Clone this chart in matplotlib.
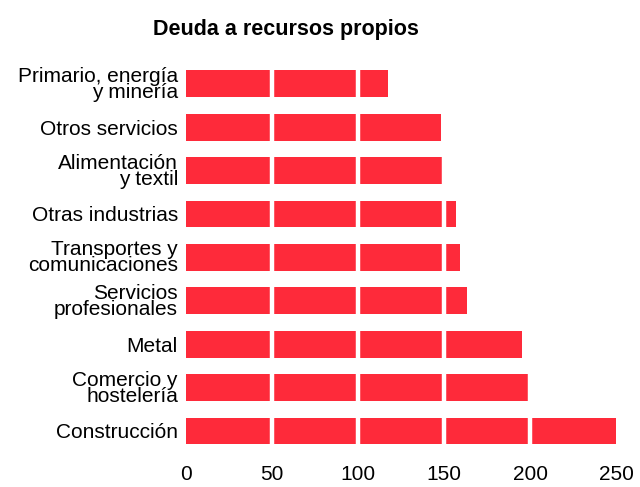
import matplotlib.pyplot as plt

# datos (de arriba hacia abajo)
sectores = ["Primario, energía\ny minería", "Otros servicios", "Alimentación\ny textil",
            "Otras industrias", "Transportes y\ncomunicaciones", "Servicios\nprofesionales",
            "Metal", "Comercio y\nhostelería", "Construcción"]
deuda = [117, 148, 150, 157, 159, 163, 195, 200, 250]
ticks = [0, 50, 100, 150, 200, 250]

plt.rcParams['font.family'] = ['Liberation Sans', 'DejaVu Sans']

fig = plt.figure(figsize=(6.4, 4.87), dpi=100)
ax = fig.add_axes([0.291, 0.066, 0.672, 0.811])

y = list(range(len(sectores)))[::-1]
ax.barh(y, deuda, height=0.62, color='#fe2a3a', zorder=1)

# lineas blancas de la rejilla por encima de las barras
for t in ticks[1:-1]:
    ax.axvline(t, color='white', lw=3.2, zorder=2)

ax.set_xlim(0, 250)
ax.set_ylim(-0.55, 8.55)
ax.set_yticks(y)
ax.set_yticklabels(sectores, fontsize=15, linespacing=0.8)
ax.set_xticks(ticks)
ax.set_xticklabels([str(t) for t in ticks], fontsize=15)
ax.tick_params(length=0, pad=6)
ax.tick_params(axis='x', pad=7)
for s in ax.spines.values():
    s.set_visible(False)

fig.suptitle("Deuda a recursos propios", fontsize=15.5, fontweight='bold', x=0.447, y=0.962)

fig.savefig("out.png", dpi=100, facecolor='white')
